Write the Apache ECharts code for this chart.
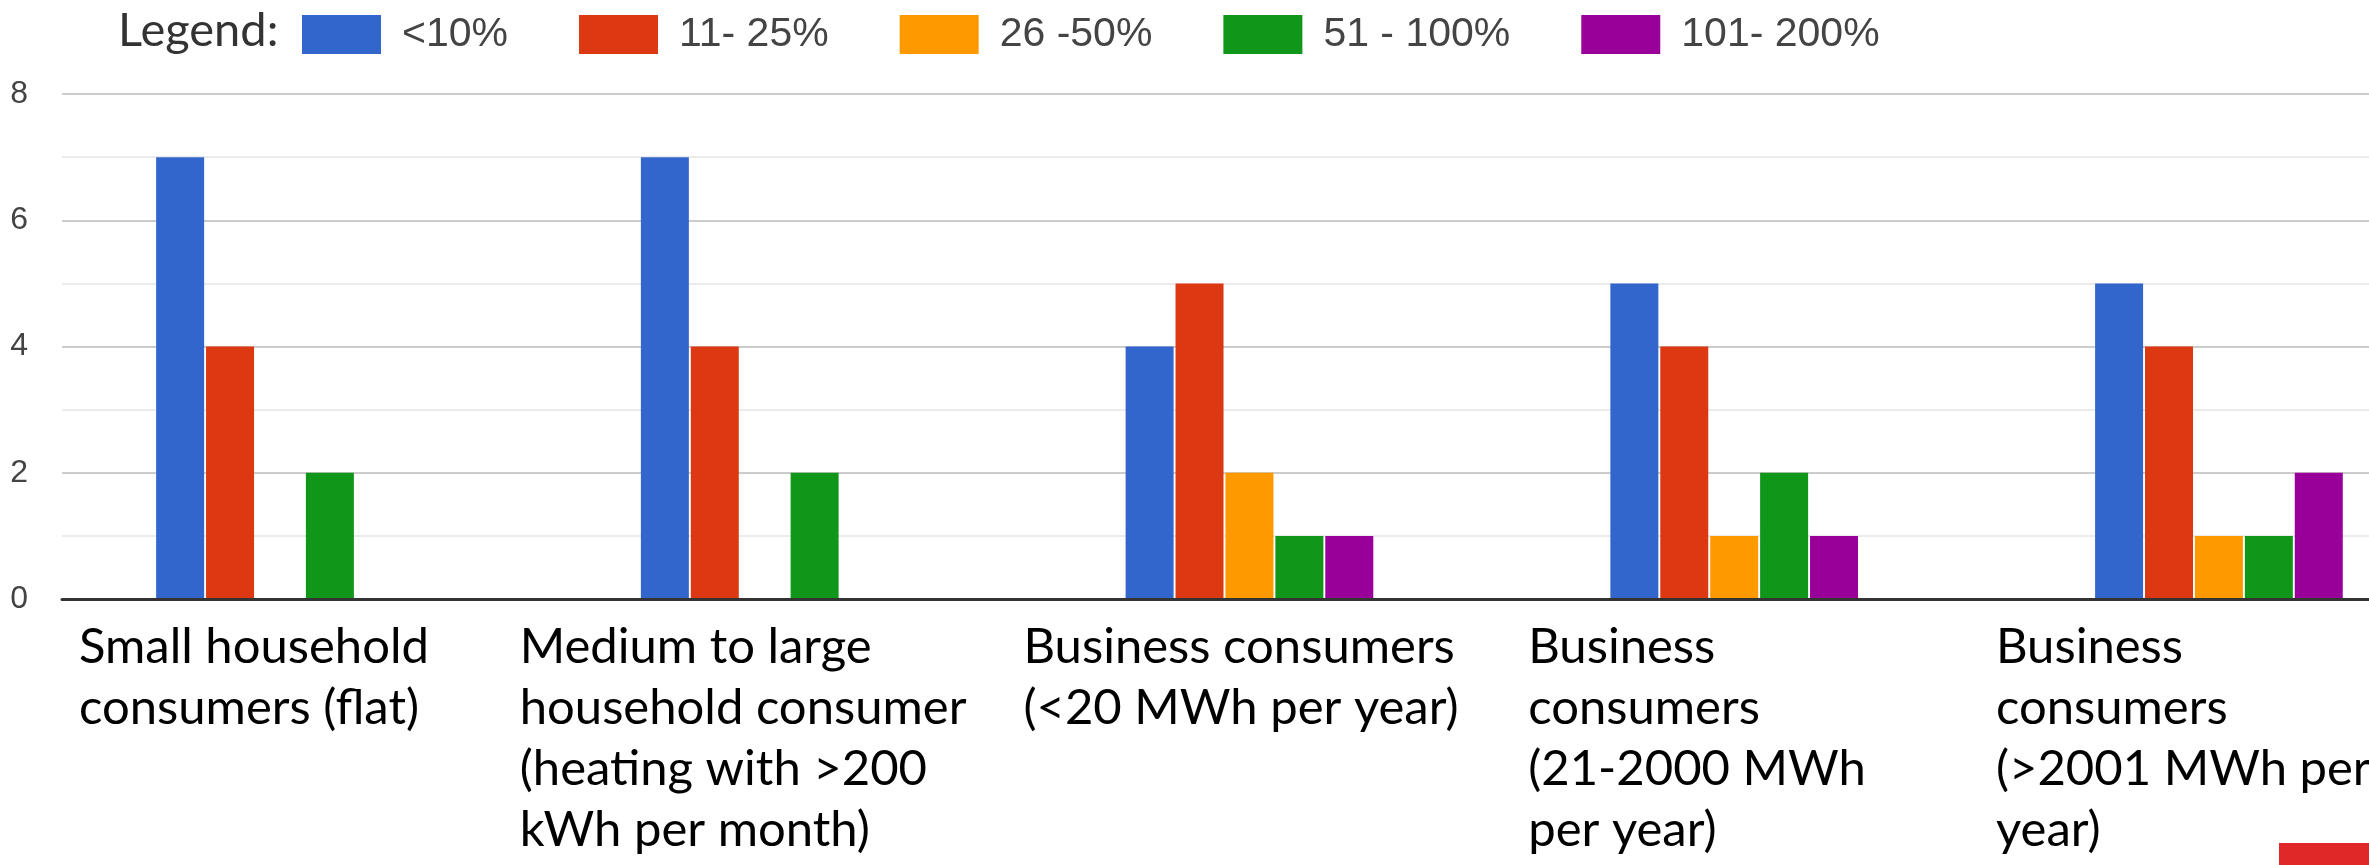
<!DOCTYPE html>
<html>
<head>
<meta charset="utf-8">
<script src="https://cdn.jsdelivr.net/npm/echarts@6/dist/echarts.min.js"></script>
<style>
html,body{margin:0;padding:0;background:#fff;}
#chart{width:2369px;height:865px;}
</style>
</head>
<body>
<div id="chart"></div>
<script>
const categories = [
  "Small household\nconsumers (flat)",
  "Medium to large\nhousehold consumer\n(heating with >200\nkWh per month)",
  "Business consumers\n(<20 MWh per year)",
  "Business\nconsumers\n(21-2000 MWh\nper year)",
  "Business\nconsumers\n(>2001 MWh per\nyear)"
];
const seriesNames = ["<10%", "11- 25%", "26 -50%", "51 - 100%", "101- 200%"];
const lt10 = [7, 7, 4, 5, 5];
const p11to25 = [4, 4, 5, 4, 4];
const p26to50 = [0, 0, 2, 1, 1];
const p51to100 = [2, 2, 1, 2, 1];
const p101to200 = [0, 0, 1, 1, 2];
const yTicks = [0, 2, 4, 6, 8];

const colors = ["#3366cc", "#dc3912", "#ff9900", "#109618", "#990099"];
const seriesValues = [lt10, p11to25, p26to50, p51to100, p101to200];
// label block widths (style only) so left-aligned labels sit where the reference shows them
const labelBoxW = [402, 490, 452, 412, 446];

const rich = {};
labelBoxW.forEach((w, i) => {
  rich['c' + i] = {width: w, align: 'left', fontSize: 49, lineHeight: 61,
    fontFamily: 'Lato', color: '#000'};
});

const chart = echarts.init(document.getElementById('chart'), null, {renderer: 'canvas'});
const option = {
  backgroundColor: '#fff',
  animation: false,
  color: colors,
  title: {
    text: 'Legend:', left: 113, top: 2,
    textStyle: {fontFamily: 'Lato', fontSize: 47, fontWeight: 'normal', color: '#333'}
  },
  legend: {
    left: 297, top: 9, itemWidth: 79, itemHeight: 39, itemGap: 71,
    icon: 'rect',
    textStyle: {fontFamily: 'Liberation Sans', fontSize: 41, color: '#444', padding: [0, 0, 0, 16]},
    data: seriesNames
  },
  grid: [
    {left: 62, width: 2399, top: 94, bottom: 266, outerBoundsMode: 'none', containLabel: false},
    {left: 37.6, width: 2423.7, top: 94, bottom: 266, outerBoundsMode: 'none', containLabel: false}
  ],
  xAxis: [
    {gridIndex: 0, type: 'category', data: categories, z: 5,
      axisLine: {show: true, lineStyle: {color: '#333', width: 3}},
      axisTick: {show: false}, axisLabel: {show: false}, splitLine: {show: false}},
    {gridIndex: 1, type: 'category', data: categories,
      axisLine: {show: false}, axisTick: {show: false}, splitLine: {show: false},
      axisLabel: {
        interval: 0, align: 'center', verticalAlign: 'top', margin: 18,
        formatter: (v, i) => v.split('\n').map(l => '{c' + i + '|' + l + '}').join('\n'),
        rich: rich
      }}
  ],
  yAxis: [
    {gridIndex: 0, type: 'value', min: yTicks[0], max: yTicks[yTicks.length - 1], interval: 2,
      axisLine: {show: false}, axisTick: {show: false},
      axisLabel: {margin: 34, fontFamily: 'Liberation Sans', fontSize: 32, color: '#444'},
      splitLine: {show: true, lineStyle: {color: '#cccccc', width: 2}},
      minorTick: {show: false, splitNumber: 2},
      minorSplitLine: {show: true, lineStyle: {color: '#ebebeb', width: 2}}},
    {gridIndex: 1, type: 'value', min: 0, max: 8, interval: 2, show: false,
      splitLine: {show: false}}
  ],
  series: seriesNames.map((name, i) => ({
    name: name, type: 'bar', xAxisIndex: 1, yAxisIndex: 1,
    data: seriesValues[i], barWidth: 48, barGap: '4%',
    itemStyle: {color: colors[i]}
  })),
  graphic: [
    {type: 'rect', right: 0, bottom: 0, shape: {width: 90, height: 22}, style: {fill: '#e02828'}}
  ]
};
chart.setOption(option);
</script>
</body>
</html>
